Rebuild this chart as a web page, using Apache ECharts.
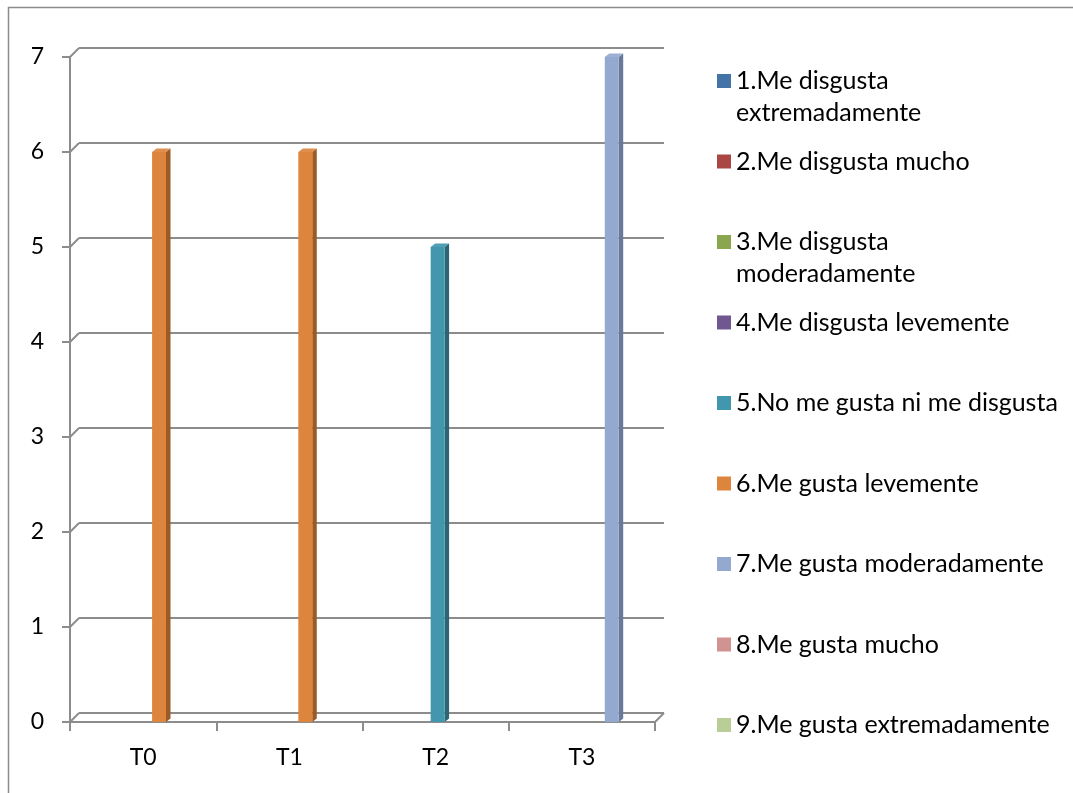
<!DOCTYPE html>
<html>
<head>
<meta charset="utf-8">
<script src="https://cdn.jsdelivr.net/npm/echarts@6/dist/echarts.min.js"></script>
<style>
  html, body { margin: 0; padding: 0; background: #ffffff; }
  #chart { width: 1073px; height: 793px; }
</style>
</head>
<body>
<div id="chart"></div>
<script>
// Categories (tastings) and the nine hedonic-scale answers
const categories = ['T0', 'T1', 'T2', 'T3'];
const seriesNames = [
  '1.Me disgusta extremadamente',
  '2.Me disgusta mucho',
  '3.Me disgusta moderadamente',
  '4.Me disgusta levemente',
  '5.No me gusta ni me disgusta',
  '6.Me gusta levemente',
  '7.Me gusta moderadamente',
  '8.Me gusta mucho',
  '9.Me gusta extremadamente'
];
// Legend text; the two long entries wrap onto a second line
const legendLabels = [
  '1.Me disgusta\nextremadamente',
  '2.Me disgusta mucho',
  '3.Me disgusta\nmoderadamente',
  '4.Me disgusta levemente',
  '5.No me gusta ni me disgusta',
  '6.Me gusta levemente',
  '7.Me gusta moderadamente',
  '8.Me gusta mucho',
  '9.Me gusta extremadamente'
];

// Counts per category for each answer
const s1 = [0, 0, 0, 0];
const s2 = [0, 0, 0, 0];
const s3 = [0, 0, 0, 0];
const s4 = [0, 0, 0, 0];
const s5 = [0, 0, 5, 0];
const s6 = [6, 6, 0, 0];
const s7 = [0, 0, 0, 7];
const s8 = [0, 0, 0, 0];
const s9 = [0, 0, 0, 0];
const seriesValues = [s1, s2, s3, s4, s5, s6, s7, s8, s9];

// Value axis ticks
const yTicks = [0, 1, 2, 3, 4, 5, 6, 7];

// Face colours (front, side) per series
const frontColors = ['#4473A8', '#AA4644', '#8AA64F', '#71578F', '#4297AF', '#DD843D', '#93A9CF', '#D19392', '#B9CD96'];
const sideColors  = ['#2F5078', '#78302F', '#617538', '#4F3D65', '#2C6575', '#9C5A26', '#687A99', '#946867', '#83916A'];

const FONT = 'Lato';
const DEPTH = 9;         // back-wall offset of the pseudo 3D frame
const BAR_DX = 4.5;      // bar extrusion
const BAR_DY = 3.5;
const N_SERIES = seriesNames.length;
const GAP_RATIO = 1.5;   // category gap, in bar widths
const LINE_H = 32;

function barRenderer(idx) {
  return function (params, api) {
    const cat = api.value(0);
    const v = api.value(1);
    if (!v) return null;
    const top = api.coord([cat, v]);
    const base = api.coord([cat, 0]);
    const catW = api.size([1, 0])[0];
    const bw = catW / (N_SERIES + GAP_RATIO);
    const x0 = top[0] - (N_SERIES * bw) / 2 + idx * bw + 2;
    const x1 = x0 + bw;
    const yt = top[1], yb = base[1];
    return {
      type: 'group',
      children: [
        { type: 'polygon', shape: { points: [[x1, yt], [x1 + BAR_DX, yt - BAR_DY], [x1 + BAR_DX, yb - BAR_DY], [x1, yb]] },
          style: { fill: sideColors[idx] } },
        { type: 'polygon', shape: { points: [[x0, yt], [x0 + BAR_DX, yt - BAR_DY], [x1 + BAR_DX, yt - BAR_DY], [x1, yt]] },
          style: { fill: frontColors[idx], opacity: 0.92 } },
        { type: 'rect', shape: { x: x0, y: yt, width: bw, height: yb - yt },
          style: { fill: frontColors[idx] } }
      ]
    };
  };
}

// Back wall gridlines with their diagonal links to the front axis
function frameRenderer(params, api) {
  const cs = params.coordSys;
  const v = api.value(1);
  const y = api.coord([0, v])[1];
  const lineStyle = { stroke: '#8C8C8C', lineWidth: 2, fill: null };
  const children = [
    { type: 'line', shape: { x1: cs.x + DEPTH, y1: y - DEPTH, x2: cs.x + cs.width + DEPTH, y2: y - DEPTH }, style: lineStyle },
    { type: 'line', shape: { x1: cs.x, y1: y, x2: cs.x + DEPTH, y2: y - DEPTH }, style: lineStyle }
  ];
  if (v === 0) {
    children.push({ type: 'line', shape: { x1: cs.x + cs.width, y1: y, x2: cs.x + cs.width + DEPTH, y2: y - DEPTH }, style: lineStyle });
  }
  return { type: 'group', children: children };
}

const series = [{
  type: 'custom',
  name: 'frame',
  renderItem: frameRenderer,
  data: yTicks.map(t => [0, t]),
  encode: { x: 0, y: 1 },
  silent: true,
  z: 1
}];
seriesValues.forEach((vals, i) => {
  series.push({
    type: 'custom',
    name: seriesNames[i],
    renderItem: barRenderer(i),
    data: vals.map((v, c) => [c, v]),
    encode: { x: 0, y: 1 },
    itemStyle: { color: frontColors[i] },
    z: 3
  });
});

// One legend block per entry, on an even vertical pitch.
// Wrapped entries get an empty leading line so the swatch sits beside the first line.
const legends = seriesNames.map((name, i) => {
  const twoLines = legendLabels[i].indexOf('\n') >= 0;
  const firstLineCenter = 81 + 80.5 * i;
  return {
    data: [{ name: name, icon: 'rect' }],
    left: 717,
    top: firstLineCenter - (twoLines ? 1.5 * LINE_H : 0.5 * LINE_H),
    orient: 'vertical',
    padding: 0,
    itemWidth: 14,
    itemHeight: 14,
    selectedMode: false,
    formatter: () => (twoLines ? '\n' : '') + legendLabels[i],
    textStyle: {
      fontFamily: FONT,
      fontSize: 25,
      color: '#000000',
      lineHeight: LINE_H
    }
  };
});

const chart = echarts.init(document.getElementById('chart'), null, { renderer: 'canvas' });
chart.setOption({
  animation: false,
  backgroundColor: '#ffffff',
  grid: { left: 70, right: 418, top: 57, bottom: 71 },
  xAxis: {
    type: 'category',
    data: categories,
    boundaryGap: true,
    axisLine: { show: true, lineStyle: { color: '#8C8C8C', width: 2 } },
    axisTick: { show: true, length: 9, lineStyle: { color: '#8C8C8C', width: 2 } },
    axisLabel: { fontFamily: FONT, fontSize: 23, color: '#000000', margin: 24 },
    splitLine: { show: false }
  },
  yAxis: {
    type: 'value',
    min: 0,
    max: 7,
    interval: 1,
    axisLine: { show: true, lineStyle: { color: '#8C8C8C', width: 2 } },
    axisTick: { show: true, length: 8, lineStyle: { color: '#8C8C8C', width: 2 } },
    axisLabel: { fontFamily: FONT, fontSize: 23, color: '#000000', margin: 26 },
    splitLine: { show: false }
  },
  legend: legends,
  graphic: [{
    type: 'rect',
    shape: { x: 8.5, y: 7.5, width: 1100, height: 820 },
    style: { fill: null, stroke: '#8C8C8C', lineWidth: 1.5 },
    silent: true,
    z: 0
  }],
  series: series
});
</script>
</body>
</html>
